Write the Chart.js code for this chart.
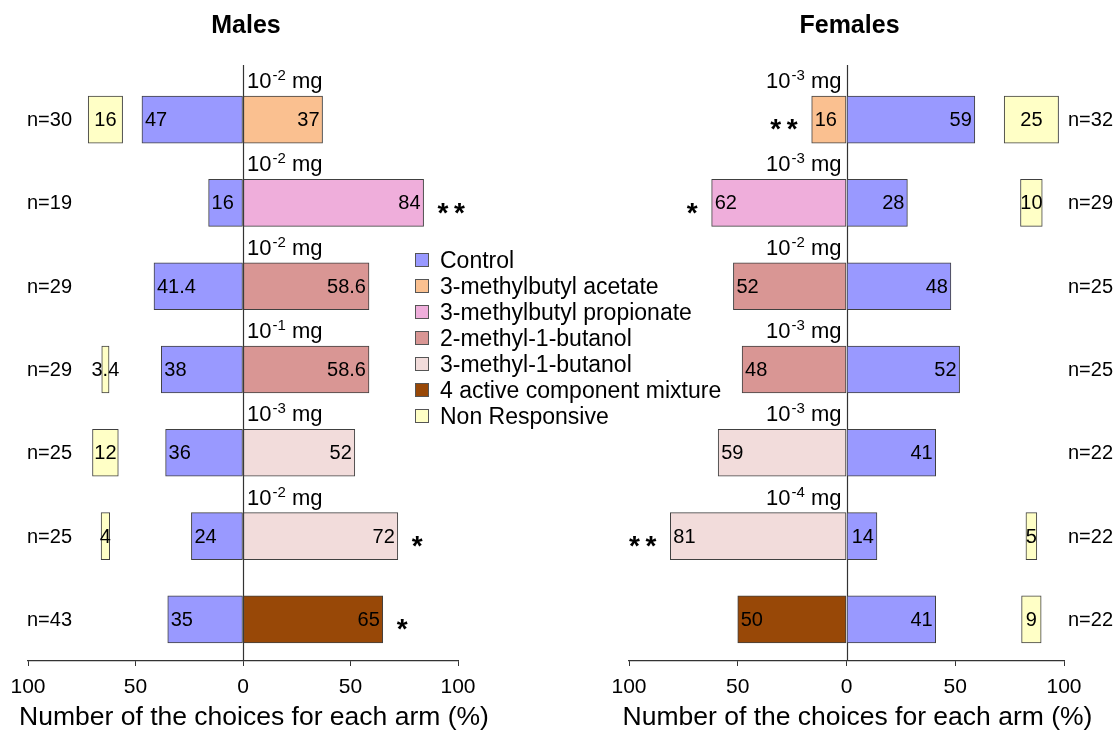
<!DOCTYPE html>
<html><head><meta charset="utf-8">
<script src="https://cdn.jsdelivr.net/npm/chart.js@4"></script>
<style>
html,body{margin:0;padding:0;background:#fff;}
body{width:1120px;height:733px;position:relative;overflow:hidden;font-family:"Liberation Sans",Arial,sans-serif;}
.panel{position:absolute;top:0;width:560px;height:733px;}
#legend{position:absolute;left:415px;top:247px;font-size:23px;color:#000;}
#legend .item{display:flex;align-items:center;height:26px;white-space:nowrap;}
#legend .sw{width:12px;height:12px;border:1px solid #555;margin-right:11px;flex:none;}
</style></head><body>
<div class="panel" style="left:0"><canvas id="m" width="560" height="733"></canvas></div>
<div class="panel" style="left:560px"><canvas id="f" width="560" height="733"></canvas></div>
<div id="legend"></div>
<script>
const FF = '"Liberation Sans", Arial, sans-serif';
const treatments = ['Control','3-methylbutyl acetate','3-methylbutyl propionate','2-methyl-1-butanol','3-methyl-1-butanol','4 active component mixture','Non Responsive'];
const colors = ['#9999ff','#fac090','#efaedb','#d99694','#f2dcdb','#984807','#ffffc6'];
const tickValues = [-100,-50,0,50,100];
const axisTitle = 'Number of the choices for each arm (%)';

// Males (top to bottom)
const maleN       = [30,19,29,29,25,25,43];
const maleTreat   = [1,2,3,3,4,4,5];
const maleDose    = [-2,-2,-2,-1,-3,-2,null];
const maleControl = [47,16,41.4,38,36,24,35];
const maleTest    = [37,84,58.6,58.6,52,72,65];
const maleNR      = [16,null,null,3.4,12,4,null];
const maleSig     = ['','**','','','','*','*'];

// Females (top to bottom)
const femaleN       = [32,29,25,25,22,22,22];
const femaleTreat   = [1,2,3,3,4,4,5];
const femaleDose    = [-3,-3,-2,-3,-3,-4,null];
const femaleControl = [59,28,48,52,41,14,41];
const femaleTest    = [16,62,52,48,59,81,50];
const femaleNR      = [25,10,null,null,null,5,9];
const femaleSig     = ['**','*','','','','**',''];

Chart.defaults.font.family = FF;
Chart.defaults.color = '#000';

function build(id, title, p, s, nrCenter, padL, padR, nGap) {
  const labels = p.treat.map((t,i)=> treatments[t] + (p.dose[i]!=null ? ' 10^' + p.dose[i] + ' mg' : ''));
  const common = {grouped:false, barThickness:47, borderWidth:1, borderColor:'#404040', borderSkipped:false};
  const datasets = [
    {...common, label:'Control', data:p.control.map(v=>s*v), backgroundColor:colors[0]},
    {...common, label:'Odour', data:p.test.map(v=>-s*v), backgroundColor:p.treat.map(t=>colors[t])},
    {...common, label:'Non Responsive', data:p.nr.map(v=> v==null ? null : [s*nrCenter - v/2, s*nrCenter + v/2]), backgroundColor:colors[6]}
  ];
  const annot = {
    id:'annot',
    beforeDatasetsDraw(chart){
      const ctx = chart.ctx, xs = chart.scales.x, ca = chart.chartArea;
      const x0 = Math.round(xs.getPixelForValue(0)) + 0.5;
      ctx.save(); ctx.strokeStyle='#333'; ctx.lineWidth=1.2;
      ctx.beginPath(); ctx.moveTo(x0, 65); ctx.lineTo(x0, ca.bottom); ctx.stroke(); ctx.restore();
    },
    afterDatasetsDraw(chart){
      const ctx = chart.ctx, xs = chart.scales.x, ca = chart.chartArea;
      const zx = xs.getPixelForValue(0);
      const mc = chart.getDatasetMeta(0).data, mt = chart.getDatasetMeta(1).data, mn = chart.getDatasetMeta(2).data;
      ctx.save();
      ctx.fillStyle = '#000';
      // panel title
      ctx.font = 'bold 25px ' + FF; ctx.textAlign='center'; ctx.textBaseline='middle';
      ctx.fillText(title, (ca.left+ca.right)/2 + 3, 26);
      // axis title
      ctx.font = '26.5px ' + FF;
      ctx.fillText(axisTitle, (ca.left+ca.right)/2 + 11, 718);
      for (let i=0;i<p.control.length;i++){
        const bc = mc[i], bt = mt[i];
        const y = bc.y + 1;
        ctx.textBaseline='middle';
        const cEnd = bc.x, tEnd = bt.x;
        ctx.font = '20px ' + FF;
        if (s < 0) {
          ctx.textAlign='left'; ctx.fillText(String(p.control[i]), cEnd + 3, y);
          ctx.textAlign='right'; ctx.fillText(String(p.test[i]), tEnd - 3, y);
        } else {
          ctx.textAlign='right'; ctx.fillText(String(p.control[i]), cEnd - 3, y);
          ctx.textAlign='left'; ctx.fillText(String(p.test[i]), tEnd + 3, y);
        }
        if (p.nr[i] != null) {
          const bn = mn[i];
          ctx.textAlign='center';
          ctx.fillText(String(p.nr[i]), (bn.x + bn.base)/2, y);
        }
        ctx.textAlign='left';
        if (s < 0) ctx.fillText('n=' + p.n[i], ca.left - 1, y);
        else ctx.fillText('n=' + p.n[i], ca.right + nGap, y);
        if (p.sig[i]) {
          ctx.font = 'bold 28px ' + FF;
          const st = p.sig[i].split('').join('\u2009');
          if (s < 0) { ctx.textAlign='left'; ctx.fillText(st, tEnd + 14, y + 10); }
          else { ctx.textAlign='right'; ctx.fillText(st, tEnd - 14, y + 10); }
          ctx.font = '20px ' + FF;
        }
        if (p.dose[i] != null) {
          const top = bt.y - bt.height/2;
          const yb = top - 8;
          const big = '22px ' + FF, small = '15px ' + FF;
          const e = String(p.dose[i]);
          ctx.font = big; const w1 = ctx.measureText('10').width, w3 = ctx.measureText(' mg').width;
          ctx.font = small; const w2 = ctx.measureText(e).width;
          const sx = s < 0 ? zx + 4 : zx - 5 - (w1 + w2 + w3 + 1);
          ctx.textAlign='left'; ctx.textBaseline='alphabetic';
          ctx.font = big; ctx.fillText('10', sx, yb);
          ctx.font = small; ctx.fillText(e, sx + w1 + 1, yb - 8);
          ctx.font = big; ctx.fillText(' mg', sx + w1 + w2 + 1, yb);
          ctx.font = '20px ' + FF;
        }
      }
      ctx.restore();
    }
  };
  return new Chart(document.getElementById(id), {
    type:'bar',
    data:{labels, datasets},
    options:{
      indexAxis:'y', responsive:false, animation:false, devicePixelRatio:1,
      layout:{padding:{left:padL, right:padR, top:78, bottom:0}},
      plugins:{legend:{display:false}, tooltip:{enabled:false}, title:{display:false}},
      scales:{
        y:{type:'category', display:false, offset:true},
        x:{type:'linear', min:-100, max:100,
           afterBuildTicks:(sc)=>{ sc.ticks = tickValues.map(v=>({value:v})); },
           afterFit:(sc)=>{ sc.height = 72; },
           grid:{display:true, drawOnChartArea:false, drawTicks:true, tickLength:5, color:'#333', lineWidth:1},
           border:{display:true, color:'#333', width:1.2},
           ticks:{font:{size:21}, color:'#000', padding:9, maxRotation:0, callback:(v)=>String(Math.abs(v))},
           title:{display:false, text:axisTitle}
        }
      }
    },
    plugins:[annot]
  });
}

build('m', 'Males', {n:maleN, treat:maleTreat, dose:maleDose, control:maleControl, test:maleTest, nr:maleNR, sig:maleSig}, -1, 64, 28, 102, 0);
build('f', 'Females', {n:femaleN, treat:femaleTreat, dose:femaleDose, control:femaleControl, test:femaleTest, nr:femaleNR, sig:femaleSig}, 1, 85, 69, 56, 4);

const lg = document.getElementById('legend');
treatments.forEach((t,i)=>{
  const d = document.createElement('div'); d.className='item';
  const sw = document.createElement('span'); sw.className='sw'; sw.style.background = colors[i];
  const tx = document.createElement('span'); tx.textContent = t;
  d.appendChild(sw); d.appendChild(tx); lg.appendChild(d);
});
</script>
</body></html>
